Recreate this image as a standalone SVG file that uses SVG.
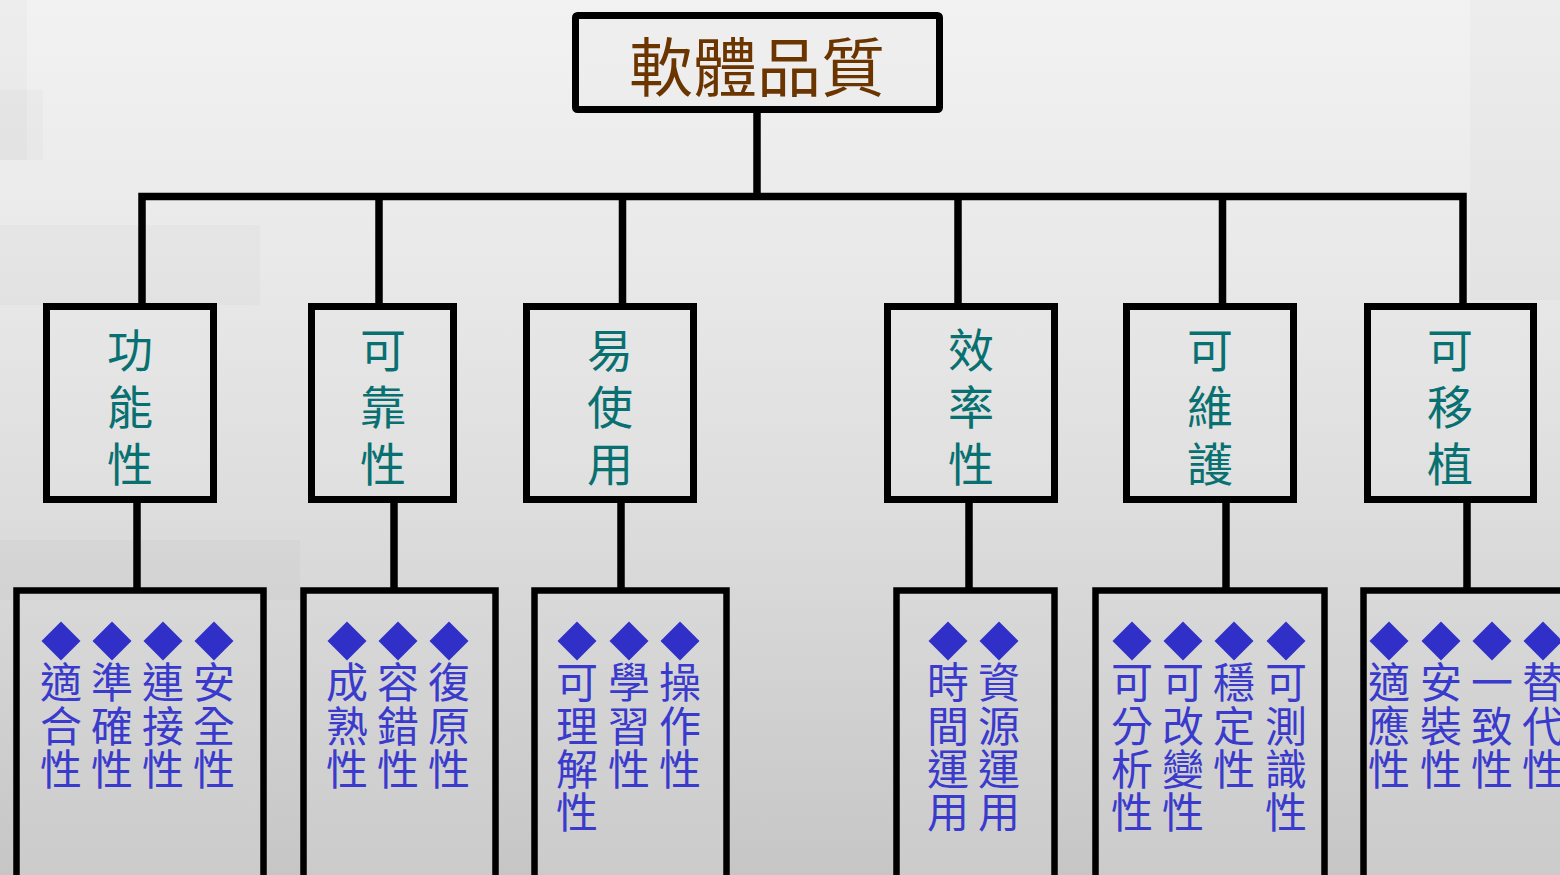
<svg xmlns="http://www.w3.org/2000/svg" xmlns:xlink="http://www.w3.org/1999/xlink" width="1560" height="875" viewBox="0 0 1560 875">
  <defs>
    <linearGradient id="bg" x1="0" y1="0" x2="0" y2="1">
      <stop offset="0" stop-color="#f2f2f2"/>
      <stop offset="0.3" stop-color="#e9e9e9"/>
      <stop offset="0.6" stop-color="#dcdcdc"/>
      <stop offset="1" stop-color="#c6c6c6"/>
    </linearGradient>
    <polygon id="dm" points="0,-19.5 19.5,0 0,19.5 -19.5,0" fill="#3030c8"/>
    <style>
      .box { fill: #e6e6e6; fill-opacity: 0.25; stroke: #000; stroke-width: 7; }
      .sub { fill: #dadada; fill-opacity: 0.25; stroke: #000; stroke-width: 6.5; }
      .ln { stroke: #000; stroke-width: 7.5; fill: none; stroke-linejoin: miter; }
      .title { font-family: "Noto Sans CJK TC", "Noto Sans CJK SC", sans-serif; font-size: 64px; fill: #6b3500; text-anchor: middle; }
      .cat { font-family: "Noto Sans CJK TC", "Noto Sans CJK SC", sans-serif; font-size: 46px; fill: #087070; text-anchor: middle; }
      .it { font-family: "Noto Sans CJK TC", "Noto Sans CJK SC", sans-serif; font-size: 42px; fill: #3a3acc; text-anchor: middle; }
    </style>
  </defs>

  <rect x="0" y="0" width="1560" height="875" fill="url(#bg)"/>
  <g fill="#000" fill-opacity="0.018">
    <rect x="0" y="0" width="27" height="160"/>
    <rect x="0" y="90" width="43" height="70"/>
    <rect x="0" y="225" width="260" height="80"/>
    <rect x="1470" y="0" width="90" height="300"/>
    <rect x="0" y="540" width="300" height="60"/>
  </g>

  <g id="connectors">
    <line class="ln" x1="757" y1="113" x2="757" y2="197"/>
    <path class="ln" d="M142 304 V196.5 H1463 V304"/>
    <line class="ln" x1="379" y1="196" x2="379" y2="304"/>
    <line class="ln" x1="622.5" y1="196" x2="622.5" y2="304"/>
    <line class="ln" x1="958" y1="196" x2="958" y2="304"/>
    <line class="ln" x1="1222.5" y1="196" x2="1222.5" y2="304"/>
    <line class="ln" x1="137" y1="502" x2="137" y2="588"/>
    <line class="ln" x1="394" y1="502" x2="394" y2="588"/>
    <line class="ln" x1="621" y1="502" x2="621" y2="588"/>
    <line class="ln" x1="969" y1="502" x2="969" y2="588"/>
    <line class="ln" x1="1226" y1="502" x2="1226" y2="588"/>
    <line class="ln" x1="1467" y1="502" x2="1467" y2="588"/>
  </g>

  <g id="root">
    <rect class="box" x="575.5" y="15.5" width="364" height="94" rx="2"/>
    <text class="title" x="757" y="91">軟體品質</text>
  </g>

  <g id="cat-functionality">
    <rect class="box" x="46.5" y="306.5" width="167" height="193"/>
    <text class="cat" x="130"><tspan x="130" y="367">功</tspan><tspan x="130" y="423.5">能</tspan><tspan x="130" y="480.5">性</tspan></text>
  </g>
  <g id="cat-reliability">
    <rect class="box" x="311.5" y="306.5" width="142" height="193"/>
    <text class="cat" x="383"><tspan x="383" y="367">可</tspan><tspan x="383" y="423.5">靠</tspan><tspan x="383" y="480.5">性</tspan></text>
  </g>
  <g id="cat-usability">
    <rect class="box" x="526.5" y="306.5" width="167" height="193"/>
    <text class="cat" x="610"><tspan x="610" y="367">易</tspan><tspan x="610" y="423.5">使</tspan><tspan x="610" y="480.5">用</tspan></text>
  </g>
  <g id="cat-efficiency">
    <rect class="box" x="887.5" y="306.5" width="167" height="193"/>
    <text class="cat" x="971"><tspan x="971" y="367">效</tspan><tspan x="971" y="423.5">率</tspan><tspan x="971" y="480.5">性</tspan></text>
  </g>
  <g id="cat-maintainability">
    <rect class="box" x="1126.5" y="306.5" width="167" height="193"/>
    <text class="cat" x="1210"><tspan x="1210" y="367">可</tspan><tspan x="1210" y="423.5">維</tspan><tspan x="1210" y="480.5">護</tspan></text>
  </g>
  <g id="cat-portability">
    <rect class="box" x="1367.5" y="306.5" width="166" height="193"/>
    <text class="cat" x="1450"><tspan x="1450" y="367">可</tspan><tspan x="1450" y="423.5">移</tspan><tspan x="1450" y="480.5">植</tspan></text>
  </g>

  <g id="sub-functionality">
    <rect class="sub" x="16.5" y="590.5" width="247" height="320"/>
    <use xlink:href="#dm" href="#dm" x="61" y="641"/>
    <use xlink:href="#dm" href="#dm" x="112" y="641"/>
    <use xlink:href="#dm" href="#dm" x="163" y="641"/>
    <use xlink:href="#dm" href="#dm" x="214" y="641"/>
    <text class="it"><tspan x="61" y="698">適</tspan><tspan x="61" y="741.5">合</tspan><tspan x="61" y="785">性</tspan></text>
    <text class="it"><tspan x="112" y="698">準</tspan><tspan x="112" y="741.5">確</tspan><tspan x="112" y="785">性</tspan></text>
    <text class="it"><tspan x="163" y="698">連</tspan><tspan x="163" y="741.5">接</tspan><tspan x="163" y="785">性</tspan></text>
    <text class="it"><tspan x="214" y="698">安</tspan><tspan x="214" y="741.5">全</tspan><tspan x="214" y="785">性</tspan></text>
  </g>

  <g id="sub-reliability">
    <rect class="sub" x="303.5" y="590.5" width="192" height="320"/>
    <use xlink:href="#dm" href="#dm" x="347" y="641"/>
    <use xlink:href="#dm" href="#dm" x="398" y="641"/>
    <use xlink:href="#dm" href="#dm" x="449" y="641"/>
    <text class="it"><tspan x="347" y="698">成</tspan><tspan x="347" y="741.5">熟</tspan><tspan x="347" y="785">性</tspan></text>
    <text class="it"><tspan x="398" y="698">容</tspan><tspan x="398" y="741.5">錯</tspan><tspan x="398" y="785">性</tspan></text>
    <text class="it"><tspan x="449" y="698">復</tspan><tspan x="449" y="741.5">原</tspan><tspan x="449" y="785">性</tspan></text>
  </g>

  <g id="sub-usability">
    <rect class="sub" x="534.5" y="590.5" width="192" height="320"/>
    <use xlink:href="#dm" href="#dm" x="577" y="641"/>
    <use xlink:href="#dm" href="#dm" x="629" y="641"/>
    <use xlink:href="#dm" href="#dm" x="680" y="641"/>
    <text class="it"><tspan x="577" y="698">可</tspan><tspan x="577" y="741.5">理</tspan><tspan x="577" y="785">解</tspan><tspan x="577" y="828">性</tspan></text>
    <text class="it"><tspan x="629" y="698">學</tspan><tspan x="629" y="741.5">習</tspan><tspan x="629" y="785">性</tspan></text>
    <text class="it"><tspan x="680" y="698">操</tspan><tspan x="680" y="741.5">作</tspan><tspan x="680" y="785">性</tspan></text>
  </g>

  <g id="sub-efficiency">
    <rect class="sub" x="896.5" y="590.5" width="158" height="320"/>
    <use xlink:href="#dm" href="#dm" x="948" y="641"/>
    <use xlink:href="#dm" href="#dm" x="999" y="641"/>
    <text class="it"><tspan x="948" y="698">時</tspan><tspan x="948" y="741.5">間</tspan><tspan x="948" y="785">運</tspan><tspan x="948" y="828">用</tspan></text>
    <text class="it"><tspan x="999" y="698">資</tspan><tspan x="999" y="741.5">源</tspan><tspan x="999" y="785">運</tspan><tspan x="999" y="828">用</tspan></text>
  </g>

  <g id="sub-maintainability">
    <rect class="sub" x="1095.5" y="590.5" width="229" height="320"/>
    <use xlink:href="#dm" href="#dm" x="1132" y="641"/>
    <use xlink:href="#dm" href="#dm" x="1183" y="641"/>
    <use xlink:href="#dm" href="#dm" x="1234" y="641"/>
    <use xlink:href="#dm" href="#dm" x="1286" y="641"/>
    <text class="it"><tspan x="1132" y="698">可</tspan><tspan x="1132" y="741.5">分</tspan><tspan x="1132" y="785">析</tspan><tspan x="1132" y="828">性</tspan></text>
    <text class="it"><tspan x="1183" y="698">可</tspan><tspan x="1183" y="741.5">改</tspan><tspan x="1183" y="785">變</tspan><tspan x="1183" y="828">性</tspan></text>
    <text class="it"><tspan x="1234" y="698">穩</tspan><tspan x="1234" y="741.5">定</tspan><tspan x="1234" y="785">性</tspan></text>
    <text class="it"><tspan x="1286" y="698">可</tspan><tspan x="1286" y="741.5">測</tspan><tspan x="1286" y="785">識</tspan><tspan x="1286" y="828">性</tspan></text>
  </g>

  <g id="sub-portability">
    <rect class="sub" x="1363.5" y="590.5" width="300" height="320"/>
    <use xlink:href="#dm" href="#dm" x="1389" y="641"/>
    <use xlink:href="#dm" href="#dm" x="1441" y="641"/>
    <use xlink:href="#dm" href="#dm" x="1492" y="641"/>
    <use xlink:href="#dm" href="#dm" x="1543" y="641"/>
    <text class="it"><tspan x="1389" y="698">適</tspan><tspan x="1389" y="741.5">應</tspan><tspan x="1389" y="785">性</tspan></text>
    <text class="it"><tspan x="1441" y="698">安</tspan><tspan x="1441" y="741.5">裝</tspan><tspan x="1441" y="785">性</tspan></text>
    <text class="it"><tspan x="1492" y="698">一</tspan><tspan x="1492" y="741.5">致</tspan><tspan x="1492" y="785">性</tspan></text>
    <text class="it"><tspan x="1543" y="698">替</tspan><tspan x="1543" y="741.5">代</tspan><tspan x="1543" y="785">性</tspan></text>
  </g>
</svg>
